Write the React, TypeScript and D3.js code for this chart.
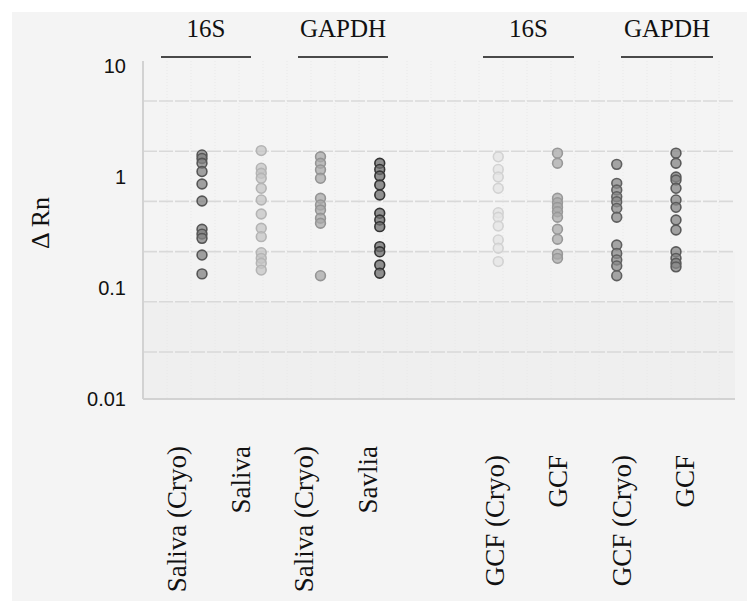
import * as d3 from 'd3'

// sample columns, left to right ('' is the empty gap between the two halves)
const categories = ['s16Cryo', 's16', 'gSalCryo', 'gSal', '', 'g16Cryo', 'g16', 'gGcfCryo', 'gGcf']
const xLabels = ['Saliva (Cryo)', 'Saliva', 'Saliva (Cryo)', 'Savlia', '', 'GCF (Cryo)', 'GCF', 'GCF (Cryo)', 'GCF']
const groupLabels = ['16S', 'GAPDH', '16S', 'GAPDH']
const yTicks = [10, 1, 0.1, 0.01]

// ΔRn values
const saliva16sCryo = [1.58, 1.47, 1.33, 1.12, 0.865, 0.608, 0.338, 0.306, 0.28, 0.198, 0.134]
const saliva16s = [1.73, 1.2, 1.08, 0.973, 0.791, 0.621, 0.464, 0.345, 0.29, 0.208, 0.185, 0.167, 0.145]
const salivaGapdhCryo = [1.52, 1.33, 1.16, 0.973, 0.643, 0.56, 0.504, 0.425, 0.383, 0.129]
const salivaGapdh = [1.33, 1.17, 1.02, 0.847, 0.689, 0.471, 0.41, 0.357, 0.236, 0.212, 0.161, 0.136]
const gcf16sCryo = [1.52, 1.17, 1.0, 0.791, 0.477, 0.434, 0.362, 0.271, 0.228, 0.173]
const gcf16s = [1.64, 1.33, 0.643, 0.587, 0.533, 0.487, 0.434, 0.338, 0.275, 0.202, 0.185]
const gcfGapdhCryo = [1.3, 0.877, 0.764, 0.665, 0.599, 0.522, 0.434, 0.244, 0.205, 0.179, 0.158, 0.129]
const gcfGapdh = [1.64, 1.33, 1.0, 0.94, 0.791, 0.621, 0.533, 0.41, 0.333, 0.212, 0.185, 0.167, 0.155]

const series = [
  { key: 's16Cryo', values: saliva16sCryo },
  { key: 's16', values: saliva16s },
  { key: 'gSalCryo', values: salivaGapdhCryo },
  { key: 'gSal', values: salivaGapdh },
  { key: 'g16Cryo', values: gcf16sCryo },
  { key: 'g16', values: gcf16s },
  { key: 'gGcfCryo', values: gcfGapdhCryo },
  { key: 'gGcf', values: gcfGapdh },
]

// dot styles, same order as series
const dotFill = ['#838383', '#c6c6c6', '#a9a9a9', '#6f6f6f', '#e4e4e4', '#ababab', '#8a8a8a', '#858585']
const dotStroke = ['#555', '#b4b4b4', '#949494', '#333', '#d2d2d2', '#989898', '#5f5f5f', '#5a5a5a']

const W = 747
const H = 601
const axisX = 143
const plotRight = 735
const plotTop = 61
const plotBottom = 399

// the group bars above the plot were placed by hand in the original
const groupBars = [
  [161, 251],
  [298, 388],
  [483, 574],
  [621, 713],
]

const serif = '"Liberation Serif", "Times New Roman", serif'
const sans = '"Liberation Sans", Arial, sans-serif'

export default function App() {
  const y = d3.scaleLog().domain([0.01, 10]).range([plotBottom, 66])
  const x = d3.scalePoint<string>().domain(categories).range([202, 676])
  const xLab = d3.scalePoint<string>().domain(categories).range([177, 685])

  const hGrid = d3.range(6).map((i) => 101 + i * 50.2)
  const vGrid = d3.range(axisX + 24, plotRight, 24)

  return (
    <svg
      width={W}
      height={H}
      style={{ position: 'absolute', left: 0, top: 0, background: '#fff' }}
    >
      <defs>
        <filter id="soft" x="-50%" y="-50%" width="200%" height="200%">
          <feGaussianBlur stdDeviation={0.45} />
        </filter>
      </defs>
      <rect x={12} y={12} width={W - 12} height={H - 12} fill="#f4f4f4" />

      {/* slightly darker band in the lower part of the plot */}
      <rect x={axisX} y={252} width={plotRight - axisX} height={plotBottom - 252} fill="#000" opacity={0.008} />
      <rect x={axisX} y={302} width={plotRight - axisX} height={plotBottom - 302} fill="#000" opacity={0.01} />

      {vGrid.map((gx) => (
        <line key={gx} x1={gx} x2={gx} y1={plotTop} y2={plotBottom} stroke="#e8e8e8" strokeDasharray="1 2" />
      ))}
      {hGrid.map((gy) => (
        <line
          key={gy}
          x1={axisX}
          x2={plotRight}
          y1={gy}
          y2={gy}
          stroke="#d9d9d9"
          strokeWidth={1.6}
          strokeDasharray="14 2"
        />
      ))}
      <line x1={axisX} x2={plotRight} y1={plotBottom} y2={plotBottom} stroke="#d2d2d2" strokeWidth={2} />
      <line x1={axisX} x2={axisX} y1={plotTop} y2={plotBottom} stroke="#d2d2d2" strokeWidth={2} />

      {yTicks.map((t) => (
        <text
          key={t}
          x={126}
          y={y(t)}
          textAnchor="end"
          dominantBaseline="central"
          fontFamily={sans}
          fontSize={20}
          fill="#111"
        >
          {t}
        </text>
      ))}

      <text
        transform={`translate(40,${223}) rotate(-90)`}
        textAnchor="middle"
        dominantBaseline="central"
        fontFamily={serif}
        fontSize={26}
        fill="#111"
      >
        Δ Rn
      </text>

      {groupBars.map(([a, b], i) => (
        <g key={i}>
          <line x1={a} x2={b} y1={57} y2={57} stroke="#111" strokeWidth={1.6} />
          <text x={(a + b) / 2} y={37} textAnchor="middle" fontFamily={serif} fontSize={25} fill="#111">
            {groupLabels[i]}
          </text>
        </g>
      ))}

      <g filter="url(#soft)">
        {series.map((s, i) =>
          s.values.map((v, j) => (
            <circle
              key={s.key + j}
              cx={x(s.key)}
              cy={y(v)}
              r={4.9}
              fill={dotFill[i]}
              fillOpacity={0.75}
              stroke={dotStroke[i]}
              strokeWidth={1.6}
            />
          ))
        )}
      </g>

      {categories.map((c, i) =>
        c ? (
          <text
            key={c}
            transform={`translate(${xLab(c)},${i < 4 ? 446 : 455}) rotate(-90)`}
            textAnchor="end"
            dominantBaseline="central"
            fontFamily={serif}
            fontSize={27}
            fill="#111"
          >
            {xLabels[i]}
          </text>
        ) : null
      )}
    </svg>
  )
}
